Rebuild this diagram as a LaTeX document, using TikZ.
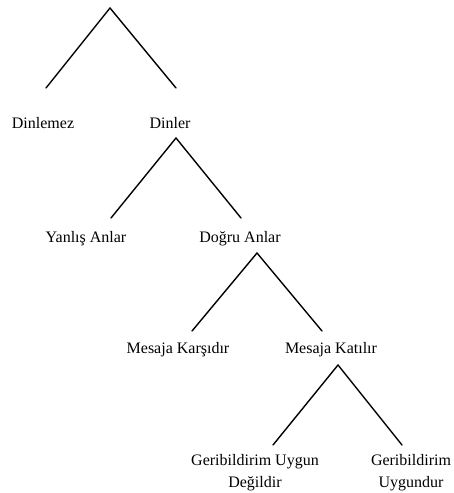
\documentclass[tikz,border=0pt]{standalone}
\usepackage{fontspec}
\setmainfont{Liberation Serif}
\tikzset{
    branch/.style={line width=1.4pt, line cap=round},
    choice/.style={font=\fontsize{16}{22}\selectfont, anchor=base, align=center, inner sep=0pt}
}
\begin{document}
\begin{tikzpicture}[x=1pt, y=-1pt]
    \useasboundingbox (0,0) rectangle (453,493);
    % Split points and line ends
        \coordinate (top1) at (110,8);
        \coordinate (endA) at (46,88);
        \coordinate (endB) at (176,88);
        \coordinate (top2) at (176,138);
        \coordinate (endC) at (111,218);
        \coordinate (endD) at (241,218);
        \coordinate (top3) at (257,253);
        \coordinate (endE) at (192,331);
        \coordinate (endF) at (322,331);
        \coordinate (top4) at (338,365);
        \coordinate (endG) at (273,445);
        \coordinate (endH) at (402,445);
    % Labels of each level
        \node[choice] (dinlemez) at (43,128) {Dinlemez};
        \node[choice] (dinler) at (170,128) {Dinler};
        \node[choice] (yanlis) at (86,242) {Yanlış Anlar};
        \node[choice] (dogru) at (240,242) {Doğru Anlar};
        \node[choice] (karsi) at (178,353) {Mesaja Karşıdır};
        \node[choice] (katilir) at (331,353) {Mesaja Katılır};
        % two-line labels sit on their last line
        \node[choice] (uygunDegil) at (255,487) {Geribildirim Uygun\\Değildir};
        \node[choice] (uygun) at (411,487) {Geribildirim\\Uygundur};
    % Branches
        \draw[branch] (endA) -- (top1) -- (endB);
        \draw[branch] (endC) -- (top2) -- (endD);
        \draw[branch] (endE) -- (top3) -- (endF);
        \draw[branch] (endG) -- (top4) -- (endH);
\end{tikzpicture}
\end{document}
